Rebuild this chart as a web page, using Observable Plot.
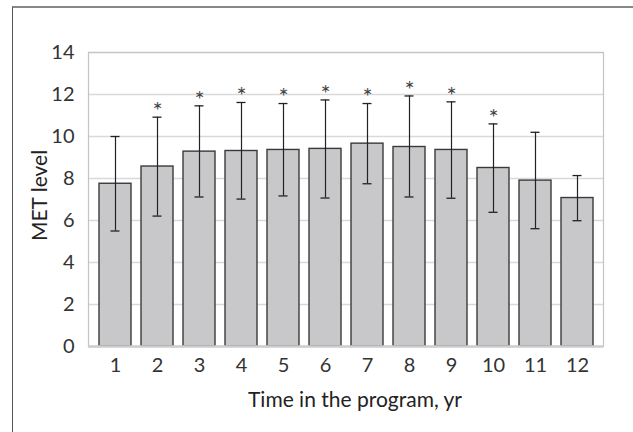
<!DOCTYPE html>
<html>
<head>
<meta charset="utf-8">
<script src="https://cdn.jsdelivr.net/npm/d3@7"></script>
<script src="https://cdn.jsdelivr.net/npm/@observablehq/plot@0.6"></script>
<style>
  html, body { margin: 0; padding: 0; background: #fff; }
  #wrap { position: relative; width: 633px; height: 432px; overflow: hidden; }
  #border { position: absolute; left: 12px; top: 6px; width: 700px; height: 500px;
            border-left: 1.5px solid #555; border-top: 2px solid #888; box-sizing: border-box; }
  #chart { position: absolute; left: 0; top: 0; }
</style>
</head>
<body>
<div id="wrap"><div id="border"></div><div id="chart"></div></div>
<script>
const years = ["1","2","3","4","5","6","7","8","9","10","11","12"];
const means = [7.75, 8.57, 9.28, 9.31, 9.36, 9.41, 9.66, 9.50, 9.36, 8.50, 7.90, 7.07];
const upper = [10.00, 10.92, 11.46, 11.62, 11.57, 11.74, 11.57, 11.93, 11.65, 10.60, 10.20, 8.14];
const lower = [5.50, 6.21, 7.12, 7.02, 7.17, 7.07, 7.75, 7.12, 7.06, 6.39, 5.61, 5.99];
const significant = [false, true, true, true, true, true, true, true, true, true, false, false];
const yTicks = [0, 2, 4, 6, 8, 10, 12, 14];

const data = years.map((y, i) => ({year: y, mean: means[i], hi: upper[i], lo: lower[i], sig: significant[i]}));

const chart = Plot.plot({
  width: 633,
  height: 432,
  marginLeft: 88,
  marginRight: 30,
  marginTop: 52,
  marginBottom: 86,
  style: {fontFamily: "Lato, 'Open Sans', sans-serif", fontSize: "18px", color: "#333", background: "transparent"},
  x: {domain: years, padding: 0.24, label: null, axis: null},
  y: {domain: [0, 14], label: null, axis: null},
  marks: [
    Plot.gridY(yTicks, {stroke: "#d9d9d9", strokeOpacity: 1, strokeWidth: 1.5}),
    Plot.frame({stroke: "#c4c4c4", strokeWidth: 1.2}),
    Plot.barY(data, {x: "year", y: "mean", fill: "#c8c8ca", stroke: "#3a3a3a", strokeWidth: 1.4}),
    Plot.ruleX(data, {x: "year", y1: "lo", y2: "hi", stroke: "#222", strokeWidth: 1.2}),
    Plot.tickY(data, {x: "year", y: "hi", stroke: "#222", strokeWidth: 1.3, insetLeft: 11.5, insetRight: 11.5}),
    Plot.tickY(data, {x: "year", y: "lo", stroke: "#222", strokeWidth: 1.3, insetLeft: 11.5, insetRight: 11.5}),
    Plot.ruleY([0], {stroke: "#cfcfcf", strokeWidth: 2.5}),
    Plot.text(data.filter(d => d.sig), {x: "year", y: "hi", text: () => "*", dy: -6, fontSize: 24, fill: "#444"}),
    Plot.text(yTicks, {y: d => d, text: d => String(d), frameAnchor: "left", textAnchor: "end", dx: -14, fontSize: 20, fill: "#333"}),
    Plot.text(years, {x: d => d, text: d => d, frameAnchor: "bottom", lineAnchor: "top", dy: 11, fontSize: 20, fill: "#333"}),
    Plot.text(["MET level"], {frameAnchor: "left", textAnchor: "middle", dx: -48, dy: -4, rotate: -90, fontSize: 21, fill: "#222"}),
    Plot.text(["Time in the program, yr"], {frameAnchor: "bottom", dx: 9, dy: 60, fontSize: 21, fill: "#222"})
  ]
});
document.getElementById("chart").appendChild(chart);
</script>
</body>
</html>
